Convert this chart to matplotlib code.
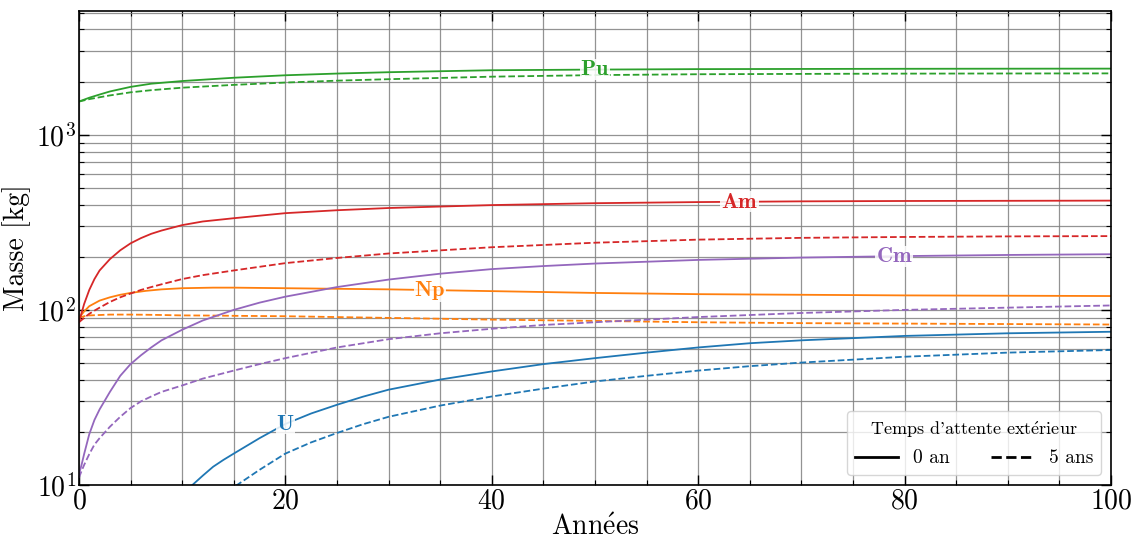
import numpy as np
import matplotlib.pyplot as plt
from matplotlib.lines import Line2D
from matplotlib.ticker import MultipleLocator, LogLocator, NullFormatter

plt.rcParams['font.family'] = ['cmr10', 'DejaVu Serif']
plt.rcParams['mathtext.fontset'] = 'cm'
plt.rcParams['axes.formatter.use_mathtext'] = True

##  Data (mass in kg vs years)
# 0 an = solid, 5 ans = dashed
pu_x = [0, 1, 2, 3, 5, 7, 10, 15, 20, 25, 30, 40, 50, 60, 70, 80, 90, 100]
pu_0 = [1550, 1630, 1700, 1770, 1880, 1960, 2030, 2120, 2190, 2240, 2280, 2340, 2360, 2375, 2380, 2385, 2388, 2390]
pu_5 = [1550, 1600, 1640, 1680, 1750, 1800, 1860, 1930, 1990, 2040, 2080, 2150, 2195, 2220, 2230, 2238, 2242, 2245]

am_x = [0, 0.5, 1, 1.5, 2, 3, 4, 5, 6, 7, 8, 10, 12, 15, 20, 25, 30, 40, 50, 60, 70, 80, 90, 100]
am_0 = [85, 108, 130, 150, 168, 195, 219, 240, 257, 272, 284, 305, 320, 334, 357, 371, 382, 397, 407, 413, 417, 419, 420, 421]
am_5 = [85, 90, 95, 99, 103, 111, 118, 124, 130, 135, 140, 150, 158, 168, 185, 198, 210, 228, 242, 252, 258, 261, 263, 264]

np_x = [0, 0.5, 1, 2, 3, 4, 5, 6.5, 8, 10, 13, 15, 20, 30, 40, 50, 60, 70, 80, 90, 100]
np_0 = [90, 98, 105, 113, 118, 122, 125, 128.5, 131, 133, 134, 134, 133, 131, 128, 125, 123, 122, 121, 120.5, 120]
np_5 = [90, 92, 93, 93.5, 94, 94, 94, 93.8, 93.5, 93, 92.8, 92.5, 92, 90, 88, 86.5, 85, 84, 83.5, 83, 82.5]

cm_x = [0, 0.25, 0.5, 1, 1.5, 2, 3, 4, 5, 6, 7, 8, 10, 12, 15, 17.5, 20, 25, 30, 35, 40, 45, 50, 60, 70, 80, 90, 100]
cm_0 = [11.5, 13, 15, 19.5, 23.5, 27, 34, 42, 49, 55, 61, 67, 77, 87, 100, 110, 119, 135, 149, 161, 171, 178, 184, 193, 199, 203, 206, 208]
cm_5 = [11, 12, 13, 15, 17, 18.5, 21.5, 24.5, 27.5, 30, 32, 34, 37, 40.5, 45, 49, 53, 61, 68, 73.5, 78, 82, 85, 91, 96, 100, 103, 106]

u_x = [0, 5, 8, 11, 12, 13, 14, 15, 17.5, 20, 22.5, 25, 27.5, 30, 35, 40, 45, 50, 55, 60, 65, 70, 80, 90, 100]
u_0 = [1, 4, 6.5, 10, 11.3, 12.7, 13.9, 15.1, 18.5, 22.3, 25.6, 28.7, 31.9, 35, 40, 44.5, 49, 53, 57, 61, 64.5, 67, 71, 73.5, 75]
u_5 = [0.5, 2.5, 4.2, 6.6, 7.4, 8.2, 8.9, 9.7, 12.2, 15.1, 17.5, 19.8, 22.2, 24.5, 28.4, 32, 35.5, 39, 42, 45, 47.7, 50, 54, 57, 59]

series = [('U', u_x, u_0, u_5), ('Np', np_x, np_0, np_5), ('Pu', pu_x, pu_0, pu_5),
          ('Am', am_x, am_0, am_5), ('Cm', cm_x, cm_0, cm_5)]
colors = ['tab:blue', 'tab:orange', 'tab:green', 'tab:red', 'tab:purple']

# where the inline labels sit
label_x = {'U': 20, 'Np': 34, 'Pu': 50, 'Am': 64, 'Cm': 79}

fig = plt.figure(figsize=(11.36, 5.4), dpi=100)
ax = fig.add_axes([0.0695, 0.102, 0.9085, 0.8776])

for (name, x, y0, y5), c in zip(series, colors):
    ax.plot(x, y0, color=c, lw=1.3)
    ax.plot(x, y5, color=c, lw=1.3, ls='--')
    xl = label_x[name]
    yl = np.interp(xl, x, y0)
    ax.text(xl, yl, r'$\mathbf{%s}$' % name, color=c, fontsize=16, ha='center', va='center',
            bbox=dict(facecolor='white', edgecolor='none', pad=0.5, alpha=0.85))

ax.set_yscale('log')
ax.set_xlim(0, 100)
ax.set_ylim(10, 5100)

ax.xaxis.set_major_locator(MultipleLocator(20))
ax.xaxis.set_minor_locator(MultipleLocator(5))
ax.yaxis.set_major_locator(LogLocator(base=10))
ax.yaxis.set_minor_locator(LogLocator(base=10, subs=np.arange(2, 10)))
ax.yaxis.set_minor_formatter(NullFormatter())

ax.tick_params(which='both', direction='in', top=True, right=True, labelsize=20, pad=2)
ax.tick_params(which='major', length=7, width=1)
ax.tick_params(which='minor', length=3.5, width=0.8)
ax.grid(which='both', color='gray', lw=0.9, alpha=0.85)
for s in ax.spines.values():
    s.set_linewidth(1.2)

ax.set_xlabel(r'Ann$\acute{\mathrm{e}}$es', fontsize=20, labelpad=0)
ax.set_ylabel('Masse [kg]', fontsize=20, labelpad=4)

handles = [Line2D([], [], color='black', lw=2), Line2D([], [], color='black', lw=2, ls='--')]
ax.legend(handles, ['0 an', '5 ans'], ncol=2, loc='lower right', fontsize=14,
          title=r"Temps d'attente ext$\acute{\mathrm{e}}$rieur",
          title_fontsize=13, handlelength=2.2, columnspacing=2.1)

fig.savefig('out.png', dpi=100)
